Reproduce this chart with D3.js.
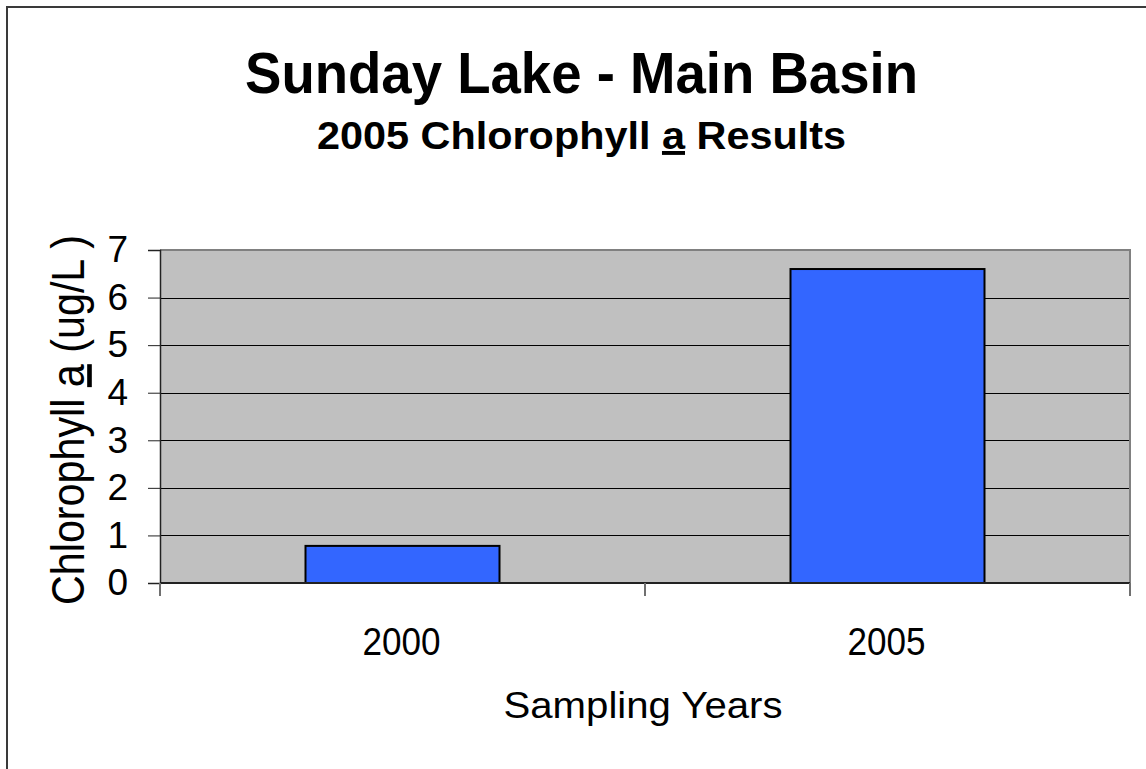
<!DOCTYPE html>
<html>
<head>
<meta charset="utf-8">
<script src="https://cdn.jsdelivr.net/npm/d3@7"></script>
<style>
  html, body { margin: 0; padding: 0; background: #fff; }
  svg { display: block; font-family: "Liberation Sans", Arial, sans-serif; }
</style>
</head>
<body>
<svg id="chart" width="1146" height="769"></svg>
<script>
// chart data
const years = ['2000', '2005'];
const chlorophyll = [0.78, 6.6];
const yTicks = [0, 1, 2, 3, 4, 5, 6, 7];

const svg = d3.select('#chart');
const width = +svg.attr('width');
const height = +svg.attr('height');

const plot = { left: 160, top: 250, right: 1130, bottom: 583 };

const x = d3.scaleBand().domain(years).range([plot.left, plot.right]).padding(0);
const y = d3.scaleLinear().domain([0, 7]).range([plot.bottom, plot.top]);

// outer frame (left/top visible, rest runs off the picture)
svg.append('rect')
  .attr('x', 7).attr('y', 7)
  .attr('width', width + 20).attr('height', height + 20)
  .attr('fill', 'none')
  .attr('stroke', '#3a3a3a')
  .attr('stroke-width', 2);

// plot background
svg.append('rect')
  .attr('x', plot.left).attr('y', plot.top)
  .attr('width', plot.right - plot.left).attr('height', plot.bottom - plot.top)
  .attr('fill', '#c0c0c0');

// gridlines
svg.append('g')
  .attr('shape-rendering', 'crispEdges')
  .selectAll('line')
  .data(yTicks.filter((d) => d > 0 && d < 7))
  .enter()
  .append('line')
  .attr('x1', plot.left).attr('x2', plot.right)
  .attr('y1', (d) => Math.round(y(d)) + 0.5).attr('y2', (d) => Math.round(y(d)) + 0.5)
  .attr('stroke', '#000')
  .attr('stroke-width', 1);

// top + right border of plot area
svg.append('path')
  .attr('d', `M${plot.left},${plot.top}H${plot.right}V${plot.bottom}`)
  .attr('fill', 'none')
  .attr('stroke', '#808080')
  .attr('stroke-width', 2);

// bars
const barW = x.bandwidth() * 0.4;
svg.append('g')
  .selectAll('rect')
  .data(years)
  .enter()
  .append('rect')
  .attr('x', (d) => x(d) + (x.bandwidth() - barW) / 2)
  .attr('y', (d, i) => y(chlorophyll[i]))
  .attr('width', barW)
  .attr('height', (d, i) => y(0) - y(chlorophyll[i]))
  .attr('fill', '#3366ff')
  .attr('stroke', '#000')
  .attr('stroke-width', 2);

// y axis
const yAxis = svg.append('g')
  .attr('transform', `translate(${plot.left},0)`)
  .call(d3.axisLeft(y).tickValues(yTicks).tickSize(12).tickPadding(20).tickFormat(d3.format('d')));
yAxis.select('.domain').attr('stroke', '#222').attr('stroke-width', 1.5);
yAxis.selectAll('.tick line').attr('stroke', '#222');
yAxis.selectAll('.tick text')
  .attr('font-size', 37)
  .attr('fill', '#000')
  .attr('font-family', '"Liberation Sans", Arial, sans-serif');

// x axis: ticks sit on band edges, labels in band centres
const xAxis = svg.append('g').attr('transform', `translate(0,${plot.bottom})`);
xAxis.append('line')
  .attr('x1', plot.left).attr('x2', plot.right)
  .attr('stroke', '#222').attr('stroke-width', 2);
const edges = years.map((d) => x(d)).concat([x(years[years.length - 1]) + x.bandwidth()]);
xAxis.selectAll('.edge')
  .data(edges)
  .enter()
  .append('line')
  .attr('class', 'edge')
  .attr('x1', (d) => d).attr('x2', (d) => d)
  .attr('y1', 0).attr('y2', 13)
  .attr('stroke', '#707070').attr('stroke-width', 2);
xAxis.selectAll('text')
  .data(years)
  .enter()
  .append('text')
  .attr('x', (d) => x(d) + x.bandwidth() / 2 - 1)
  .attr('y', 72)
  .attr('text-anchor', 'middle')
  .attr('font-size', 38)
  .attr('textLength', 78)
  .attr('lengthAdjust', 'spacingAndGlyphs')
  .text((d) => d);

// titles
svg.append('text')
  .attr('x', 581.5).attr('y', 93)
  .attr('text-anchor', 'middle')
  .attr('font-size', 57)
  .attr('font-weight', 'bold')
  .attr('textLength', 673)
  .attr('lengthAdjust', 'spacingAndGlyphs')
  .text('Sunday Lake - Main Basin');

const sub = svg.append('text')
  .attr('x', 581.5).attr('y', 149)
  .attr('text-anchor', 'middle')
  .attr('font-size', 39)
  .attr('font-weight', 'bold')
  .attr('textLength', 529)
  .attr('lengthAdjust', 'spacingAndGlyphs');
sub.append('tspan').text('2005 Chlorophyll ');
sub.append('tspan').attr('text-decoration', 'underline').text('a');
sub.append('tspan').text(' Results');

// axis titles
svg.append('text')
  .attr('x', (plot.left + plot.right) / 2 - 2).attr('y', 718)
  .attr('text-anchor', 'middle')
  .attr('font-size', 37)
  .attr('textLength', 279)
  .attr('lengthAdjust', 'spacingAndGlyphs')
  .text('Sampling Years');

const yl = svg.append('text')
  .attr('transform', 'translate(84,420) scale(1.13,1) rotate(-90)')
  .attr('text-anchor', 'middle')
  .attr('font-size', 41)
  .attr('textLength', 370)
  .attr('lengthAdjust', 'spacingAndGlyphs');
yl.append('tspan').text('Chlorophyll ');
yl.append('tspan').attr('text-decoration', 'underline').text('a');
yl.append('tspan').text(' (ug/L )');
</script>
</body>
</html>
